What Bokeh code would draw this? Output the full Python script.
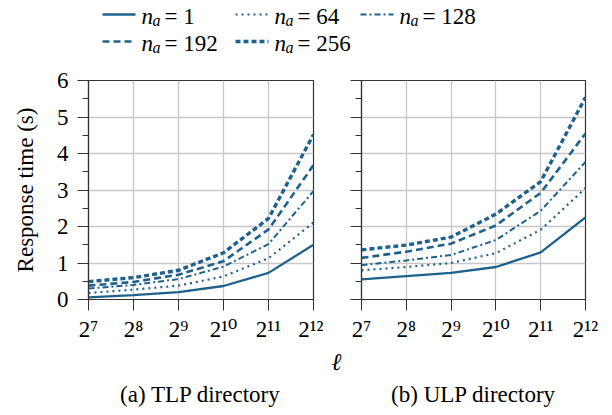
from bokeh.plotting import figure
from bokeh.layouts import column, row
from bokeh.models import Range1d, FixedTicker
from bokeh.core.properties import value
from bokeh.embed import file_html
from bokeh.resources import INLINE

# ---------------- data ----------------
ell = [128, 256, 512, 1024, 2048, 4096]
ell_labels = ["2⁷", "2⁸", "2⁹", "2¹⁰", "2¹¹", "2¹²"]
y_ticks = [0, 1, 2, 3, 4, 5, 6]
n_a = [1, 64, 128, 192, 256]

tlp_n1 = [0.06, 0.12, 0.20, 0.37, 0.73, 1.50]
tlp_n64 = [0.18, 0.27, 0.38, 0.63, 1.13, 2.11]
tlp_n128 = [0.30, 0.40, 0.56, 0.90, 1.52, 2.97]
tlp_n192 = [0.38, 0.48, 0.68, 1.05, 1.92, 3.68]
tlp_n256 = [0.49, 0.60, 0.80, 1.28, 2.22, 4.52]

ulp_n1 = [0.55, 0.64, 0.73, 0.89, 1.29, 2.25]
ulp_n64 = [0.80, 0.89, 1.00, 1.27, 1.91, 3.05]
ulp_n128 = [0.94, 1.07, 1.22, 1.63, 2.43, 3.77]
ulp_n192 = [1.14, 1.31, 1.53, 2.03, 2.92, 4.55]
ulp_n256 = [1.36, 1.49, 1.71, 2.34, 3.23, 5.54]

tlp = [tlp_n1, tlp_n64, tlp_n128, tlp_n192, tlp_n256]
ulp = [ulp_n1, ulp_n64, ulp_n128, ulp_n192, ulp_n256]

y_label = "Response time (s)"
x_label = "ℓ"
captions = ["(a) TLP directory", "(b) ULP directory"]

# ---------------- style ----------------
SERIF = "Liberation Serif"
TICK_FONT = "Liberation Serif, DejaVu Serif"
FS = "23px"
BLUE = "#1f618d"
FRAME = "#333333"
GRID = "#c8c8c8"
styles = [
    dict(line_width=2.3, line_dash="solid"),
    dict(line_width=2.2, line_dash="2 4"),
    dict(line_width=2.0, line_dash="6 3 2 3"),
    dict(line_width=2.6, line_dash="7 4"),
    dict(line_width=3.4, line_dash="5 3"),
]


def make_panel(series, left):
    p = figure(
        width=323 if left else 277,
        height=278,
        x_axis_type="log",
        x_range=Range1d(ell[0], ell[-1]),
        y_range=Range1d(y_ticks[0], y_ticks[-1]),
        output_backend="svg",
        toolbar_location=None,
        min_border_left=88 if left else 38,
        min_border_right=10 if left else 15,
        min_border_top=14,
        min_border_bottom=40,
        background_fill_color="white",
        border_fill_color="white",
    )
    p.outline_line_color = FRAME
    p.outline_line_width = 1.2

    p.xaxis.ticker = FixedTicker(ticks=ell, minor_ticks=[])
    p.xaxis.major_label_overrides = {v: lab for v, lab in zip(ell, ell_labels)}
    p.yaxis.ticker = FixedTicker(
        ticks=y_ticks, minor_ticks=[t + 0.5 for t in y_ticks[:-1]]
    )

    for ax in (p.xaxis, p.yaxis):
        ax.axis_line_color = FRAME
        ax.axis_line_width = 1.2
        ax.major_tick_line_color = FRAME
        ax.minor_tick_line_color = FRAME
        ax.major_tick_out = 11
        ax.major_tick_in = 0
        ax.minor_tick_out = 6
        ax.minor_tick_in = 0
        ax.major_label_text_font = SERIF
        ax.major_label_text_font_size = FS
        ax.major_label_text_color = "black"
    p.xaxis.major_label_text_font = TICK_FONT
    p.xaxis.major_label_standoff = 6
    p.yaxis.major_label_standoff = 9

    if left:
        p.yaxis.axis_label = y_label
        p.yaxis.axis_label_text_font = SERIF
        p.yaxis.axis_label_text_font_style = "normal"
        p.yaxis.axis_label_text_font_size = FS
        p.yaxis.axis_label_text_color = "black"
        p.yaxis.axis_label_standoff = 16
    else:
        p.yaxis.major_label_overrides = {t: "" for t in y_ticks}

    p.xgrid.grid_line_color = GRID
    p.ygrid.grid_line_color = GRID
    p.xgrid.grid_line_width = 1.3
    p.ygrid.grid_line_width = 1.3

    for vals, st in zip(series, styles):
        p.line(ell, vals, line_color=BLUE, **st)
    return p


left = make_panel(tlp, True)
right = make_panel(ulp, False)


def strip(h):
    f = figure(
        width=612, height=h, x_range=Range1d(0, 612), y_range=Range1d(h, 0),
        output_backend="svg", toolbar_location=None,
        min_border=0, min_border_left=0, min_border_right=0,
        min_border_top=0, min_border_bottom=0,
    )
    f.axis.visible = False
    f.grid.visible = False
    f.outline_line_color = None
    return f


# ---------------- legend strip ----------------
leg = strip(66)
item_x = [102, 235, 360, 102, 235]
item_y = [14, 14, 14, 41, 41]
for i, (n, st) in enumerate(zip(n_a, styles)):
    x0, y0 = item_x[i], item_y[i]
    leg.line([x0, x0 + 33], [y0, y0], line_color=BLUE, **st)
    tx = x0 + 39
    leg.text([tx], [y0 + 2], text=["n"], text_font=value(SERIF),
             text_font_style="italic", text_font_size=FS,
             text_baseline="alphabetic", text_color="black")
    leg.text([tx + 11], [y0 + 6], text=["a"], text_font=value(SERIF),
             text_font_style="italic", text_font_size="16px",
             text_baseline="alphabetic", text_color="black")
    leg.text([tx + 23], [y0 + 2], text=[f"= {n}"], text_font=value(SERIF),
             text_font_size=FS, text_baseline="alphabetic",
             text_color="black")

# ---------------- bottom strip ----------------
bot = strip(71)
bot.text([336], [17], text=[x_label], text_font=value(SERIF),
         text_font_style="italic", text_font_size="24px",
         text_align="center", text_baseline="middle", text_color="black")
bot.text([200, 473], [50, 50], text=captions, text_font=value(SERIF),
         text_font_size=FS, text_align="center", text_baseline="middle",
         text_color="black")

layout = column(leg, row(left, right), bot)
open("out.html", "w").write(file_html(layout, INLINE))
